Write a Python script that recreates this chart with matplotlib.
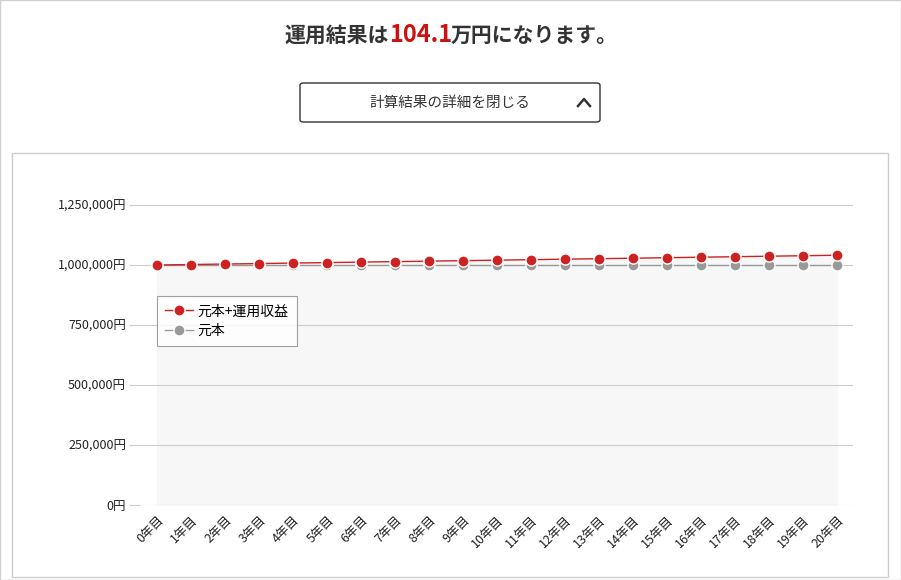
import matplotlib

matplotlib.use("Agg")
import matplotlib.pyplot as plt
from matplotlib.patches import Rectangle
from matplotlib.ticker import FuncFormatter

plt.rcParams["font.family"] = ["Noto Sans CJK JP", "DejaVu Sans"]

years = list(range(21))
year_labels = [f"{y}年目" for y in years]
total_values = [1000000, 1002000, 1004004, 1006012, 1008024, 1010040, 1012060,
                1014084, 1016112, 1018145, 1020181, 1022221, 1024266, 1026314,
                1028367, 1030424, 1032485, 1034550, 1036619, 1038692, 1040769]
principal_values = [1000000] * 21
y_ticks = [0, 250000, 500000, 750000, 1000000, 1250000]

W, H = 901, 580
fig = plt.figure(figsize=(W / 100, H / 100), dpi=100)


def fx(px):
    return px / W


def fy(py):
    return 1 - py / H


# outer frame + chart panel
fig.patches.append(Rectangle((0, 0), 1, 1, transform=fig.transFigure, fill=False,
                             edgecolor="#d0d0d0", linewidth=1))
fig.patches.append(Rectangle((fx(12), fy(577)), fx(876), 424 / H, transform=fig.transFigure,
                             fill=False, edgecolor="#cccccc", linewidth=1))

# headline
fig.text(fx(389), fy(35), "運用結果は", ha="right", va="center", fontsize=15, fontweight="bold", color="#333333")
fig.text(fx(389), fy(35), "104.1", ha="left", va="center", fontsize=17, fontweight="bold", color="#cc1111")
fig.text(fx(451), fy(35), "万円になります。", ha="left", va="center", fontsize=15, fontweight="bold", color="#333333")

# button
fig.patches.append(matplotlib.patches.FancyBboxPatch(
    (fx(300), fy(122)), fx(300), 39 / H, transform=fig.transFigure,
    boxstyle="round,pad=0,rounding_size=0.004", fill=False, edgecolor="#333333", linewidth=1))
fig.text(fx(450), fy(103), "計算結果の詳細を閉じる", ha="center", va="center", fontsize=10.5, color="#333333")
fig.lines.append(plt.Line2D([fx(578), fx(584), fx(590)], [fy(106), fy(99), fy(106)],
                            transform=fig.transFigure, color="#333333", linewidth=1.8))

ax = fig.add_axes([fx(140), fy(505), fx(713), 300 / H])
ax.set_xlim(-0.5, 20.47)
ax.set_ylim(0, 1250000)
ax.fill_between(years, total_values, color="#f7f7f7", zorder=0)
ax.plot(years, principal_values, color="#999999", linewidth=1, marker="o", markersize=8,
        markeredgecolor="white", markeredgewidth=1, label="元本", zorder=2)
ax.plot(years, total_values, color="#cc2222", linewidth=1, marker="o", markersize=8,
        markeredgecolor="white", markeredgewidth=1, label="元本+運用収益", zorder=3)

ax.set_yticks(y_ticks)
ax.yaxis.set_major_formatter(FuncFormatter(lambda v, _: f"{int(v):,}円"))
ax.set_xticks(years)
ax.set_xticklabels(year_labels, rotation=45, ha="right", rotation_mode="anchor")
ax.tick_params(axis="both", labelsize=9, colors="#222222", length=0, pad=6)
ax.tick_params(axis="y", length=8, color="#cccccc", pad=2)
ax.grid(axis="y", color="#cccccc", linewidth=0.8)
for s in ax.spines.values():
    s.set_visible(False)

handles, labels = ax.get_legend_handles_labels()
leg = ax.legend(handles[::-1], labels[::-1], loc="upper left",
                bbox_to_anchor=((157 - 140) / 713, (505 - 296) / 300), borderaxespad=0,
                fontsize=10, frameon=True, fancybox=False, edgecolor="#888888", borderpad=0.6,
                handlelength=2.0, handletextpad=0.3, labelspacing=0.4)
leg.get_frame().set_linewidth(0.8)

fig.savefig("out.png", dpi=100)
